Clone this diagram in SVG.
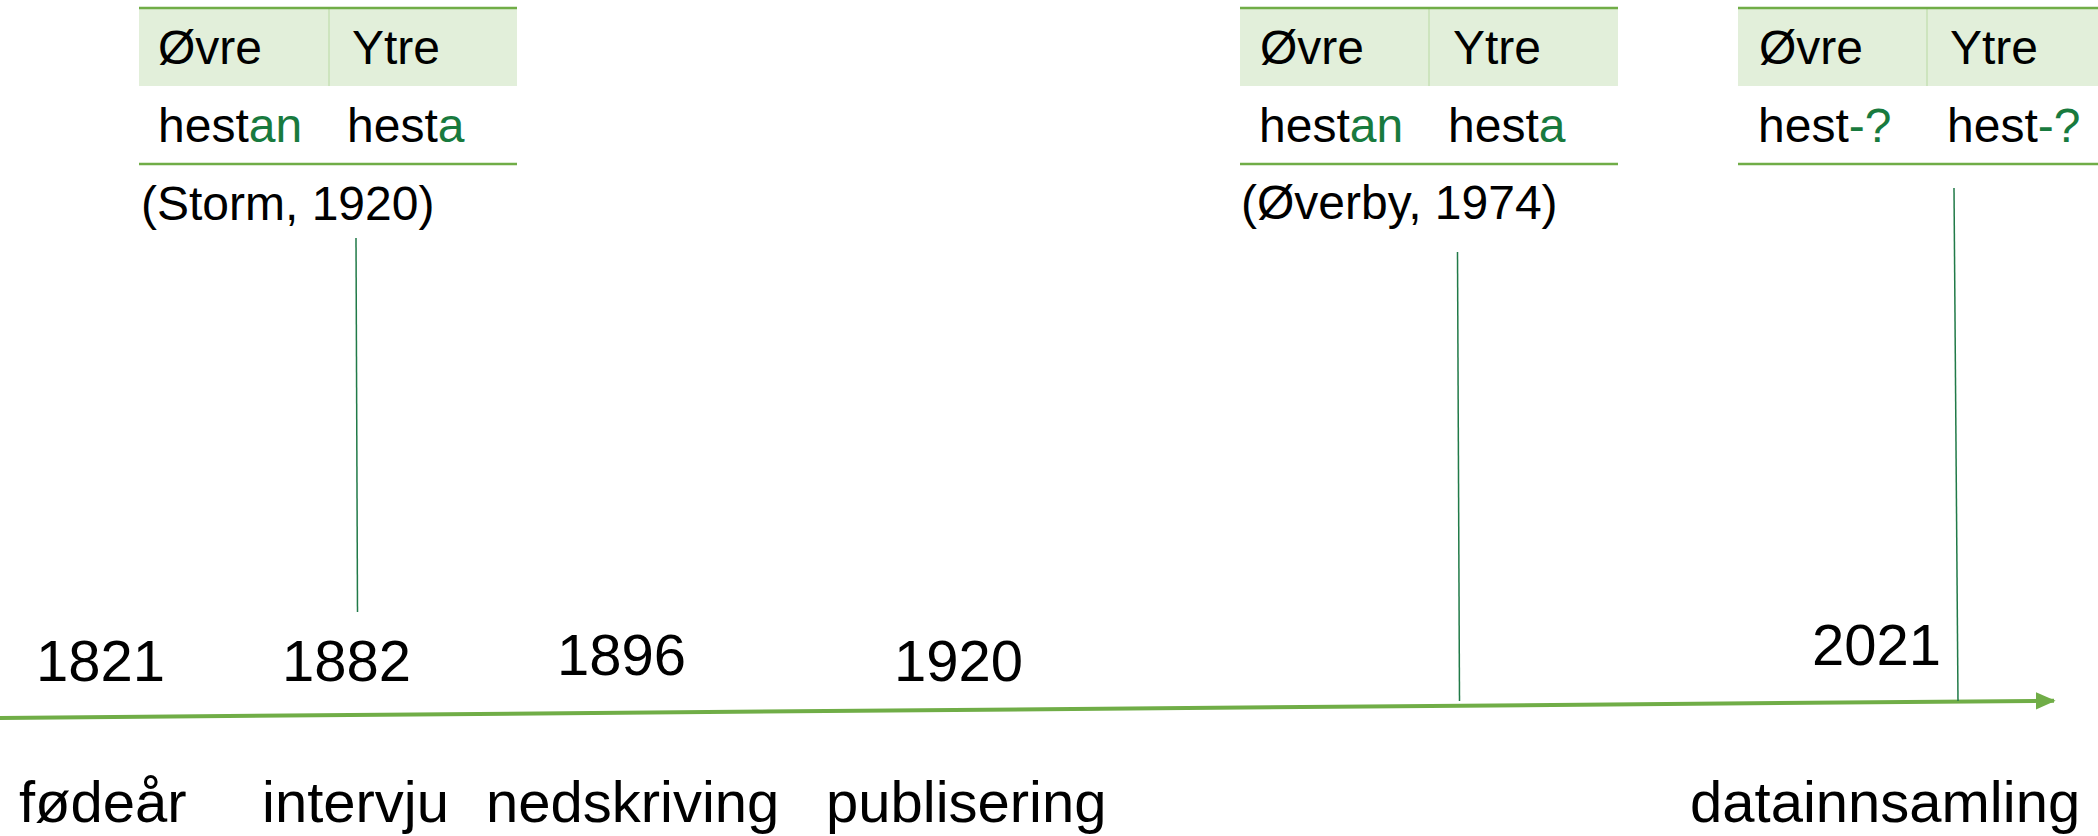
<svg xmlns="http://www.w3.org/2000/svg" width="2098" height="836" viewBox="0 0 2098 836">
<style>
text{font-family:"Liberation Sans",Arial,sans-serif;fill:#000}
.t{font-size:48px}
.y{font-size:58px}
.g{fill:#187A3E}
.hdr{fill:#E2EFDA}
.rule{stroke:#70AD47;stroke-width:2.7}
.div{stroke:#C6E0B4;stroke-width:1.5}
.tick{stroke:#217A48;stroke-width:1.5;fill:none}
</style>
<defs>
<marker id="ah" markerWidth="5" markerHeight="4.4" refX="4.6" refY="2.2" orient="auto" markerUnits="strokeWidth">
<path d="M0,0 L5,2.2 L0,4.4 Z" fill="#70AD47"/>
</marker>
</defs>
<rect width="2098" height="836" fill="#fff"/>

<g id="table-storm">
<rect class="hdr" x="139" y="8" width="378" height="78"/>
<line class="div" x1="329" y1="9" x2="329" y2="86"/>
<line class="rule" x1="139" y1="8" x2="517" y2="8"/>
<line class="rule" x1="139" y1="164" x2="517" y2="164"/>
<text class="t" x="158" y="64">Øvre</text>
<text class="t" x="352" y="64">Ytre</text>
<text class="t" x="158" y="142">hest<tspan class="g">an</tspan></text>
<text class="t" x="347" y="142">hest<tspan class="g">a</tspan></text>
<text class="t" x="141" y="220">(Storm, 1920)</text>
</g>

<g id="table-overby">
<rect class="hdr" x="1240" y="8" width="378" height="78"/>
<line class="div" x1="1429" y1="9" x2="1429" y2="86"/>
<line class="rule" x1="1240" y1="8" x2="1618" y2="8"/>
<line class="rule" x1="1240" y1="164" x2="1618" y2="164"/>
<text class="t" x="1260" y="64">Øvre</text>
<text class="t" x="1453" y="64">Ytre</text>
<text class="t" x="1259" y="142">hest<tspan class="g">an</tspan></text>
<text class="t" x="1448" y="142">hest<tspan class="g">a</tspan></text>
<text class="t" x="1241" y="219">(Øverby, 1974)</text>
</g>

<g id="table-2021">
<rect class="hdr" x="1738" y="8" width="378" height="78"/>
<line class="div" x1="1927" y1="9" x2="1927" y2="86"/>
<line class="rule" x1="1738" y1="8" x2="2116" y2="8"/>
<line class="rule" x1="1738" y1="164" x2="2116" y2="164"/>
<text class="t" x="1759" y="64">Øvre</text>
<text class="t" x="1950" y="64">Ytre</text>
<text class="t" x="1758" y="142">hest<tspan class="g">-?</tspan></text>
<text class="t" x="1947" y="142">hest<tspan class="g">-?</tspan></text>
</g>

<g id="connectors">
<line x1="0" y1="718" x2="2054" y2="700.8" stroke="#70AD47" stroke-width="4" marker-end="url(#ah)"/>
<line class="tick" x1="356" y1="238" x2="357.5" y2="612"/>
<line class="tick" x1="1457.5" y1="252" x2="1459.5" y2="701"/>
<line class="tick" x1="1954" y1="188" x2="1958" y2="701"/>
</g>

<g id="year-1821"><text class="y" x="36" y="681">1821</text></g>
<g id="year-1882"><text class="y" x="282" y="681">1882</text></g>
<g id="year-1896"><text class="y" x="557" y="675">1896</text></g>
<g id="year-1920"><text class="y" x="894" y="681">1920</text></g>
<g id="year-2021"><text class="y" x="1812" y="665">2021</text></g>

<g id="label-fodear"><text class="y" x="19" y="822">fødeår</text></g>
<g id="label-intervju"><text class="y" x="262" y="822">intervju</text></g>
<g id="label-nedskriving"><text class="y" x="486" y="822">nedskriving</text></g>
<g id="label-publisering"><text class="y" x="826" y="822">publisering</text></g>
<g id="label-datainnsamling"><text class="y" x="1690" y="822">datainnsamling</text></g>
</svg>
